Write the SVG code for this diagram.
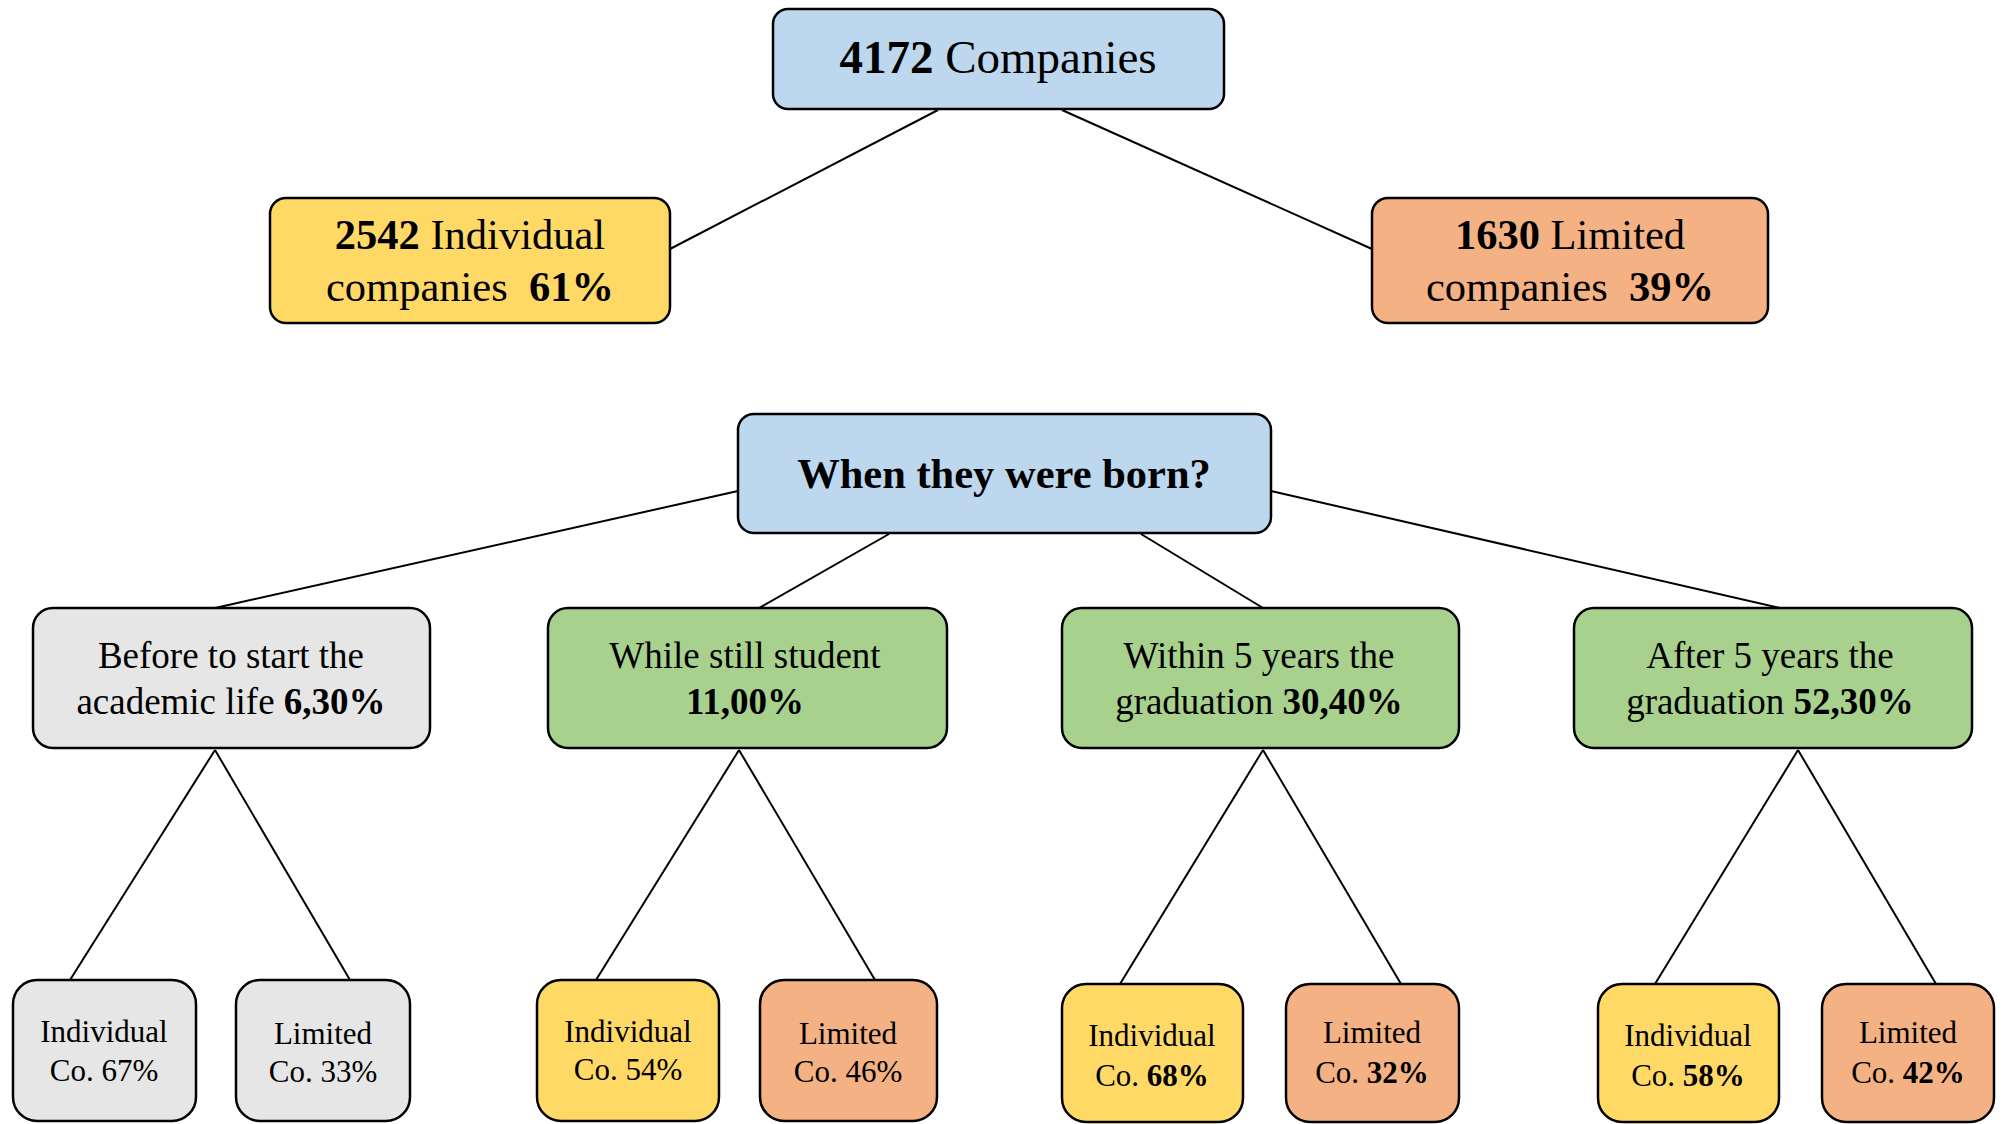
<svg xmlns="http://www.w3.org/2000/svg" width="2004" height="1124" viewBox="0 0 2004 1124">
<style>
.box{stroke:#000;stroke-width:2.5}
.blue{fill:#BDD7EE}.yel{fill:#FFD966}.org{fill:#F4B183}.grn{fill:#A9D18E}.gry{fill:#E7E6E6}
text{font-family:"Liberation Serif","Times New Roman",serif;fill:#000;text-anchor:middle}
.b{font-weight:bold}
.t1{font-size:47px}.t2{font-size:42.5px}.t3{font-size:37px}.t4{font-size:31px}
.conn line{stroke:#000;stroke-width:2}
</style>
<rect width="2004" height="1124" fill="#fff"/>
<g class="conn">
<line x1="938" y1="110" x2="670" y2="249"/>
<line x1="1062" y1="110" x2="1372" y2="249"/>
<line x1="738" y1="491" x2="215" y2="608"/>
<line x1="889" y1="534" x2="759" y2="608"/>
<line x1="1141" y1="534" x2="1263" y2="608"/>
<line x1="1271" y1="491" x2="1780" y2="608"/>
<line x1="215" y1="750" x2="70" y2="980"/>
<line x1="215" y1="750" x2="350" y2="980"/>
<line x1="739" y1="750" x2="596" y2="980"/>
<line x1="739" y1="750" x2="875" y2="980"/>
<line x1="1263" y1="750" x2="1120" y2="984"/>
<line x1="1263" y1="750" x2="1401" y2="984"/>
<line x1="1798" y1="750" x2="1655" y2="984"/>
<line x1="1798" y1="750" x2="1936" y2="984"/>
</g>
<g id="n-total"><rect class="box blue" x="773" y="9" width="451" height="100" rx="15"/>
<text class="t1" x="998" y="73"><tspan class="b">4172</tspan> Companies</text></g>
<g id="n-individual"><rect class="box yel" x="270" y="198" width="400" height="125" rx="16"/>
<text class="t2" x="470" y="249"><tspan class="b">2542</tspan> Individual</text>
<text class="t2" x="470" y="301" xml:space="preserve">companies  <tspan class="b">61%</tspan></text></g>
<g id="n-limited"><rect class="box org" x="1372" y="198" width="396" height="125" rx="16"/>
<text class="t2" x="1570" y="249"><tspan class="b">1630</tspan> Limited</text>
<text class="t2" x="1570" y="301" xml:space="preserve">companies  <tspan class="b">39%</tspan></text></g>
<g id="n-born"><rect class="box blue" x="738" y="414" width="533" height="119" rx="16"/>
<text class="t2 b" x="1004" y="488">When they were born?</text></g>
<g id="n-before"><rect class="box gry" x="33" y="608" width="397" height="140" rx="20"/>
<text class="t3" x="231" y="668">Before to start the</text>
<text class="t3" x="231" y="714">academic life <tspan class="b">6,30%</tspan></text></g>
<g id="n-student"><rect class="box grn" x="548" y="608" width="399" height="140" rx="20"/>
<text class="t3" x="745" y="668">While still student</text>
<text class="t3 b" x="745" y="714">11,00%</text></g>
<g id="n-within"><rect class="box grn" x="1062" y="608" width="397" height="140" rx="20"/>
<text class="t3" x="1259" y="668">Within 5 years the</text>
<text class="t3" x="1259" y="714">graduation <tspan class="b">30,40%</tspan></text></g>
<g id="n-after"><rect class="box grn" x="1574" y="608" width="398" height="140" rx="20"/>
<text class="t3" x="1770" y="668">After 5 years the</text>
<text class="t3" x="1770" y="714">graduation <tspan class="b">52,30%</tspan></text></g>
<g id="n-before-ind"><rect class="box gry" x="13" y="980" width="183" height="141" rx="24"/>
<text class="t4" x="104" y="1042">Individual</text><text class="t4" x="104" y="1081">Co. 67%</text></g>
<g id="n-before-lim"><rect class="box gry" x="236" y="980" width="174" height="141" rx="24"/>
<text class="t4" x="323" y="1044">Limited</text><text class="t4" x="323" y="1082">Co. 33%</text></g>
<g id="n-student-ind"><rect class="box yel" x="537" y="980" width="182" height="141" rx="24"/>
<text class="t4" x="628" y="1042">Individual</text><text class="t4" x="628" y="1080">Co. 54%</text></g>
<g id="n-student-lim"><rect class="box org" x="760" y="980" width="177" height="141" rx="24"/>
<text class="t4" x="848" y="1044">Limited</text><text class="t4" x="848" y="1082">Co. 46%</text></g>
<g id="n-within-ind"><rect class="box yel" x="1062" y="984" width="181" height="138" rx="24"/>
<text class="t4" x="1152" y="1046">Individual</text><text class="t4" x="1152" y="1086">Co. <tspan class="b">68%</tspan></text></g>
<g id="n-within-lim"><rect class="box org" x="1286" y="984" width="173" height="138" rx="24"/>
<text class="t4" x="1372" y="1043">Limited</text><text class="t4" x="1372" y="1083">Co. <tspan class="b">32%</tspan></text></g>
<g id="n-after-ind"><rect class="box yel" x="1598" y="984" width="181" height="138" rx="24"/>
<text class="t4" x="1688" y="1046">Individual</text><text class="t4" x="1688" y="1086">Co. <tspan class="b">58%</tspan></text></g>
<g id="n-after-lim"><rect class="box org" x="1822" y="984" width="172" height="138" rx="24"/>
<text class="t4" x="1908" y="1043">Limited</text><text class="t4" x="1908" y="1083">Co. <tspan class="b">42%</tspan></text></g>
</svg>
